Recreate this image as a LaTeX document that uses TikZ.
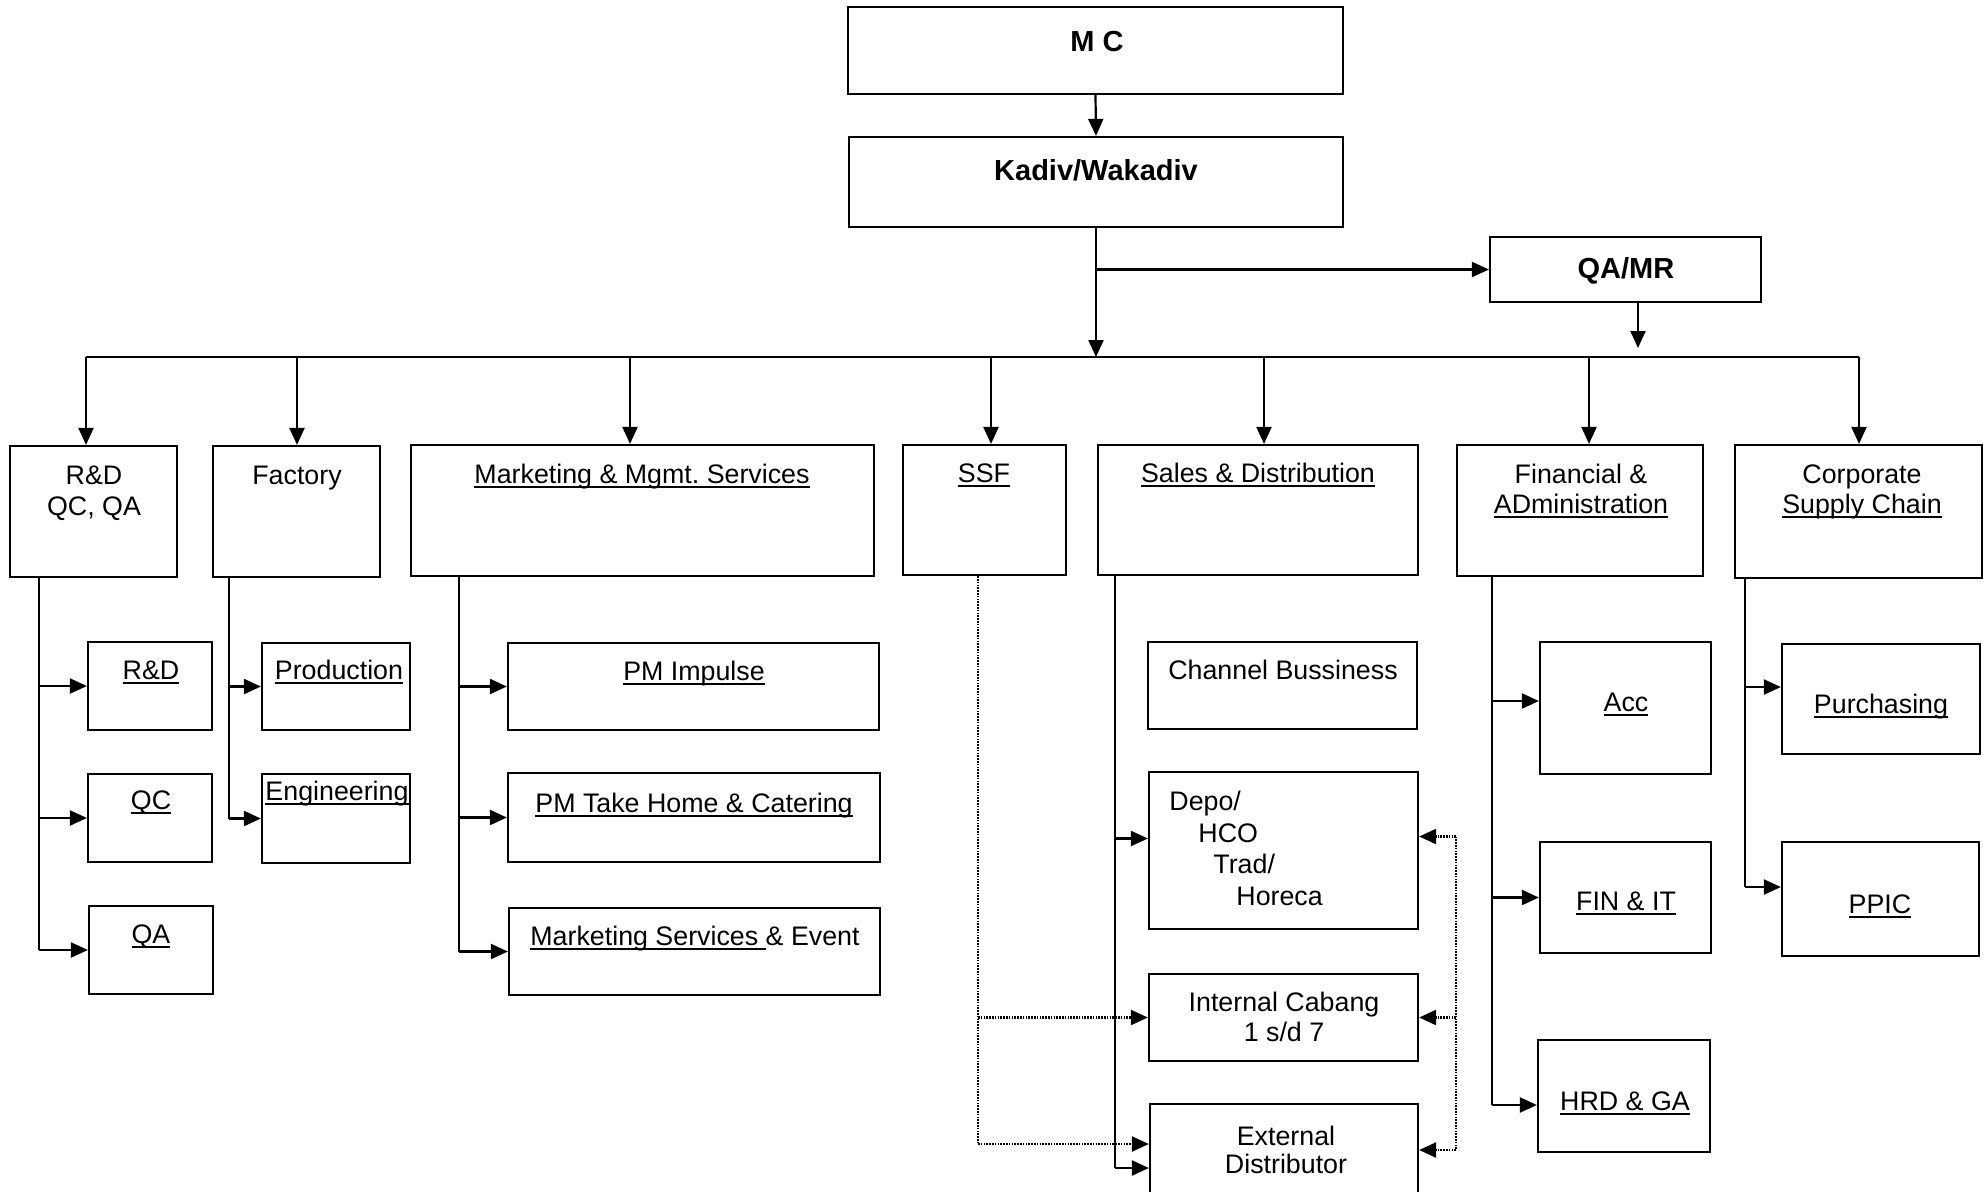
\documentclass[tikz,border=0pt]{standalone}
\usepackage{fontspec}
\setmainfont{Liberation Sans}
\usetikzlibrary{arrows.meta,fit}
% underlined text with a fixed rule depth
\newcommand{\undl}[1]{\setbox0\hbox{#1}\rlap{\rule[-2.3pt]{\wd0}{0.75pt}}\box0}
\frenchspacing
\begin{document}
\begin{tikzpicture}[x=0.5pt,y=-0.5pt,
  box/.style={draw, line width=1.1pt, inner sep=0pt},
  conn/.style={line width=1.1pt},
  arr/.style={conn, -{Triangle[length=8.5pt,width=7.5pt]}},
  dotln/.style={line width=1.1pt, dash pattern=on 0.8pt off 0.6pt},
  darr/.style={dotln, -{Triangle[length=8.5pt,width=7.5pt]}},
  txt/.style={font=\fontsize{13.4}{15}\selectfont, inner sep=0pt, anchor=base},
  txtl/.style={txt, anchor=base west},
  ttl/.style={font=\fontsize{14.5}{16}\selectfont\bfseries, inner sep=0pt, anchor=base}]

\clip (0,0) rectangle (1988,1191);
\fill[white] (0,0) rectangle (1988,1191);

% ---- top management
\node[box, fit={(848,7) (1343,94)}] (mc) {};
\node[box, fit={(849,137) (1343,227)}] (kadiv) {};
\node[box, fit={(1490,237) (1761,302)}] (qamr) {};
\node[ttl] (mcT) at (1097,51) {M C};
\node[ttl] (kadivT) at (1096,180) {Kadiv/Wakadiv};
\node[ttl] (qamrT) at (1626,278) {QA/MR};

% ---- divisions
\node[box, fit={(10,446) (177,577)}] (rd) {};
\node[box, fit={(213,446) (380,577)}] (fac) {};
\node[box, fit={(411,445) (874,576)}] (mkt) {};
\node[box, fit={(903,445) (1066,575)}] (ssf) {};
\node[box, fit={(1098,445) (1418,575)}] (sd) {};
\node[box, fit={(1457,445) (1703,576)}] (fa) {};
\node[box, fit={(1735,445) (1982,578)}] (cs) {};

\node[txt] (rdT1) at (94,484) {R\&D};
\node[txt] (rdT2) at (94,515) {QC, QA};
\node[txt] (facT) at (297,484) {Factory};
\node[txt] (mktT) at (642,483) {\undl{Marketing \& Mgmt. Services}};
\node[txt] (ssfT) at (984,482) {\undl{SSF}};
\node[txt] (sdT) at (1258,482) {\undl{Sales \& Distribution}};
\node[txt] (faT1) at (1581,483) {Financial \&};
\node[txt] (faT2) at (1581,513) {\undl{ADministration}};
\node[txt] (csT1) at (1862,483) {Corporate};
\node[txt] (csT2) at (1862,513) {\undl{Supply Chain}};

% ---- sections
\node[box, fit={(88,642) (212,730)}] (rdrd) {};
\node[box, fit={(88,774) (212,862)}] (rdqc) {};
\node[box, fit={(89,906) (213,994)}] (rdqa) {};
\node[box, fit={(262,643) (410,730)}] (prod) {};
\node[box, fit={(262,774) (410,863)}] (eng) {};
\node[box, fit={(508,643) (879,730)}] (pmi) {};
\node[box, fit={(508,773) (880,862)}] (pmt) {};
\node[box, fit={(509,908) (880,995)}] (mse) {};
\node[box, fit={(1148,642) (1417,729)}] (chb) {};
\node[box, fit={(1149,772) (1418,929)}] (depo) {};
\node[box, fit={(1149,974) (1418,1061)}] (intc) {};
\node[box, fit={(1150,1104) (1418,1232)}] (extd) {};
\node[box, fit={(1540,642) (1711,774)}] (acc) {};
\node[box, fit={(1540,842) (1711,953)}] (finit) {};
\node[box, fit={(1538,1040) (1710,1152)}] (hrd) {};
\node[box, fit={(1782,644) (1980,754)}] (pur) {};
\node[box, fit={(1782,842) (1979,956)}] (ppic) {};

\node[txt] (rdrdT) at (151,679) {\undl{R\&D}};
\node[txt] (rdqcT) at (151,809) {\undl{QC}};
\node[txt] (rdqaT) at (151,943) {\undl{QA}};
\node[txt] (prodT) at (339,679) {\undl{Production}};
\node[txt] (engT) at (337,800) {\undl{Engineering}};
\node[txt] (pmiT) at (694,680) {\undl{PM Impulse}};
\node[txt] (pmtT) at (694,812) {\undl{PM Take Home \& Catering}};
\node[txt] (mseT) at (695,945) {\undl{Marketing Services }\& Event};
\node[txt] (chbT) at (1283,679) {Channel Bussiness};
\node[txtl] (depoT1) at (1169,810) {Depo/};
\node[txtl] (depoT2) at (1198,842) {HCO};
\node[txtl] (depoT3) at (1213,873) {Trad/};
\node[txtl] (depoT4) at (1236,905) {Horeca};
\node[txt] (intcT1) at (1284,1011) {Internal Cabang};
\node[txt] (intcT2) at (1284,1041) {1 s/d 7};
\node[txt] (extdT1) at (1286,1145) {External};
\node[txt] (extdT2) at (1286,1173) {Distributor};
\node[txt] (accT) at (1626,711) {\undl{Acc}};
\node[txt] (finitT) at (1626,910) {\undl{FIN \& IT}};
\node[txt] (hrdT) at (1625,1110) {\undl{HRD \& GA}};
\node[txt] (purT) at (1881,713) {\undl{Purchasing}};
\node[txt] (ppicT) at (1880,913) {\undl{PPIC}};

% ---- top connectors
\coordinate (busK) at (1097,357);
\coordinate (qaTip) at (1638,348);
\draw[arr] (mc.south) -- (kadiv.north);
\draw[arr] (kadiv.south) -- (kadiv.south |- busK);
\draw[arr] (kadiv.south |- qamr.west) -- (qamr.west);
\draw[arr] (qamr.south -| qaTip) -- (qaTip);

% ---- distribution bus and taps
\coordinate (tapRd) at (86,357);
\coordinate (tapFac) at (297,357);
\coordinate (tapMkt) at (630,357);
\coordinate (tapSsf) at (991,357);
\coordinate (tapSd) at (1264,357);
\coordinate (tapFa) at (1589,357);
\coordinate (tapCs) at (1859,357);
\draw[conn] (tapRd) -- (tapCs);
\draw[arr] (tapRd) -- (tapRd |- rd.north);
\draw[arr] (tapFac) -- (tapFac |- fac.north);
\draw[arr] (tapMkt) -- (tapMkt |- mkt.north);
\draw[arr] (tapSsf) -- (tapSsf |- ssf.north);
\draw[arr] (tapSd) -- (tapSd |- sd.north);
\draw[arr] (tapFa) -- (tapFa |- fa.north);
\draw[arr] (tapCs) -- (tapCs |- cs.north);

% ---- R&D QC QA branch
\coordinate (rdv) at (39,0);
\draw[conn] (rd.south -| rdv) -- (rdqa.west -| rdv);
\draw[arr] (rdrd.west -| rdv) -- (rdrd.west);
\draw[arr] (rdqc.west -| rdv) -- (rdqc.west);
\draw[arr] (rdqa.west -| rdv) -- (rdqa.west);

% ---- Factory branch
\coordinate (facv) at (229,0);
\draw[conn] (fac.south -| facv) -- (eng.west -| facv);
\draw[arr] (prod.west -| facv) -- (prod.west);
\draw[arr] (eng.west -| facv) -- (eng.west);

% ---- Marketing branch
\coordinate (mktv) at (459,0);
\draw[conn] (mkt.south -| mktv) -- (mse.west -| mktv);
\draw[arr] (pmi.west -| mktv) -- (pmi.west);
\draw[arr] (pmt.west -| mktv) -- (pmt.west);
\draw[arr] (mse.west -| mktv) -- (mse.west);

% ---- Sales & Distribution branch
\coordinate (sdv) at (1115,0);
\draw[conn] (sd.south -| sdv) -- (extd.west -| sdv);
\draw[arr] ([yshift=6pt]depo.west -| sdv) -- ([yshift=6pt]depo.west);
\draw[arr] (extd.west -| sdv) -- (extd.west);

% ---- SSF dotted links
\coordinate (ssfv) at (978,0);
\draw[dotln] (ssf.south -| ssfv) -- ([yshift=12pt]extd.west -| ssfv);
\draw[darr] (intc.west -| ssfv) -- (intc.west);
\draw[darr] ([yshift=12pt]extd.west -| ssfv) -- ([yshift=12pt]extd.west);

% ---- dotted return links on the right
\coordinate (rtv) at (1456,0);
\draw[dotln] ([yshift=7pt]depo.east -| rtv) -- ([yshift=9pt]extd.east -| rtv);
\draw[darr] ([yshift=7pt]depo.east -| rtv) -- ([yshift=7pt]depo.east);
\draw[darr] (intc.east -| rtv) -- (intc.east);
\draw[darr] ([yshift=9pt]extd.east -| rtv) -- ([yshift=9pt]extd.east);

% ---- Financial branch
\coordinate (fav) at (1492,0);
\draw[conn] (fa.south -| fav) -- ([yshift=-4.5pt]hrd.west -| fav);
\draw[arr] ([yshift=3.5pt]acc.west -| fav) -- ([yshift=3.5pt]acc.west);
\draw[arr] (finit.west -| fav) -- (finit.west);
\draw[arr] ([yshift=-4.5pt]hrd.west -| fav) -- ([yshift=-4.5pt]hrd.west);

% ---- Corporate Supply Chain branch
\coordinate (csv) at (1745,0);
\draw[conn] (cs.south -| csv) -- ([yshift=6pt]ppic.west -| csv);
\draw[arr] ([yshift=6pt]pur.west -| csv) -- ([yshift=6pt]pur.west);
\draw[arr] ([yshift=6pt]ppic.west -| csv) -- ([yshift=6pt]ppic.west);
\end{tikzpicture}
\end{document}
